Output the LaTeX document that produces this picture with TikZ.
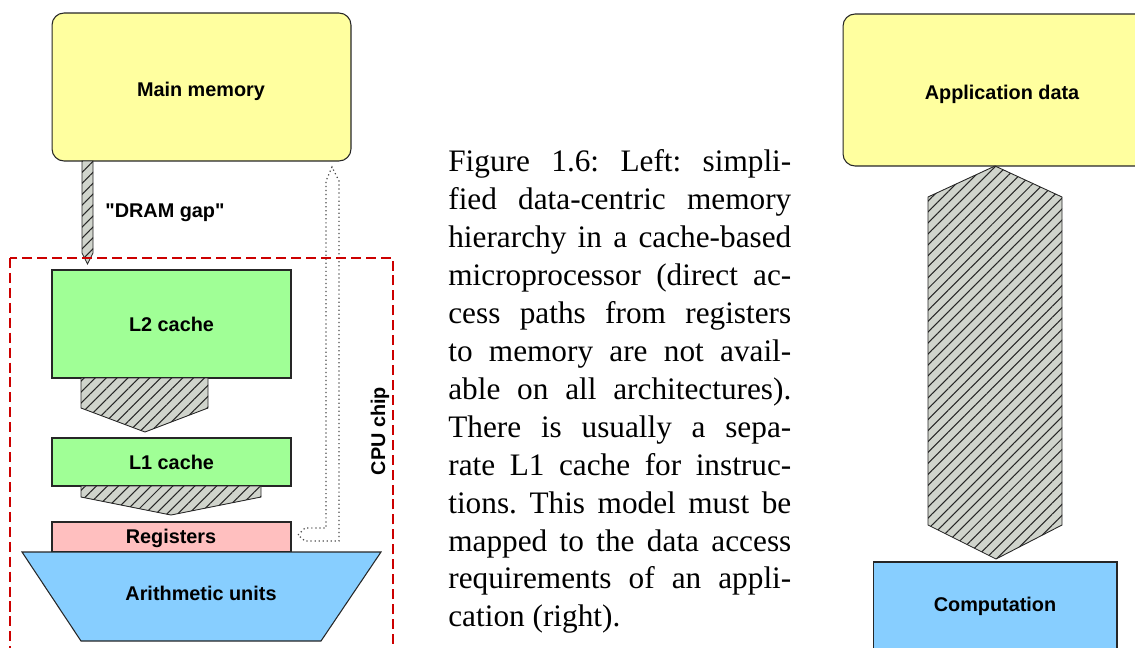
\documentclass[tikz,border=0pt]{standalone}
\usepackage{fontspec}
\setmainfont{Liberation Serif}
\setsansfont{Liberation Sans}[Ligatures=TeXOff]
\usetikzlibrary{patterns.meta}
\frenchspacing

\definecolor{memyellow}{HTML}{FFFF9F}
\definecolor{cachegreen}{HTML}{A0FF96}
\definecolor{regpink}{HTML}{FFBFBF}
\definecolor{alublue}{HTML}{87CEFF}
\definecolor{hatchgray}{HTML}{D0D4CC}
\definecolor{chipred}{HTML}{CC0000}

\begin{document}
\begin{tikzpicture}[x=0.02cm, y=-0.02cm
	, every node/.style={
		font=\sffamily\bfseries\fontsize{11.3pt}{13pt}\selectfont
		, inner sep=0pt
	}
	, box/.style={rectangle, draw=black!85, line width=0.6pt}
	, hatch/.style={draw=black!85, line width=0.5pt, fill=hatchgray
		, postaction={pattern={Lines[angle=45, distance=4.4pt, line width=0.6pt]}, pattern color=black!85}}
	, capline/.style={font=\rmfamily\fontsize{17.8pt}{21.4pt}\selectfont, anchor=base west}
]
\useasboundingbox (0,0) rectangle (1135,648);
\clip (0,0) rectangle (1135,648);

% left: memory hierarchy
\node[box, fill=memyellow, rounded corners=0.24cm, minimum width=5.98cm, minimum height=2.96cm](mem) at(201.5,87) {};
\node(memtxt) at(201,91) {Main memory};
\node[box, fill=cachegreen, minimum width=4.78cm, minimum height=2.16cm](l2) at(171.5,324) {L2 cache};
\node[box, fill=cachegreen, minimum width=4.78cm, minimum height=0.96cm](l1) at(171.5,462) {L1 cache};
\node[box, fill=regpink, minimum width=4.78cm, minimum height=0.6cm](reg) at(171.5,537) {};
\node(regtxt) at(171,538) {Registers};
\draw[box, fill=alublue] (22,552) -- (381,552) -- (321,641) -- (81,641) -- cycle;
\node(alu) at(201,593) {Arithmetic units};

\draw[hatch] (82,161) -- (93,161) -- (93,253) -- (87.5,264) -- (82,253) -- cycle;
\node[anchor=west](gap) at(105,213) {"DRAM gap"};
\draw[hatch] (81,378) -- (208,378) -- (208,408) -- (145,432) -- (81,408) -- cycle;
\draw[hatch] (81,486) -- (261,486) -- (261,497) -- (171,515) -- (81,497) -- cycle;

% direct path registers <-> memory
\draw[black!70, line width=0.7pt, dash pattern=on 0.7pt off 1.6pt]
	(298,535) -- (305,528) -- (326,528) -- (326,181) -- (332,167)
	-- (339,181) -- (339,541) -- (305,541) -- cycle;

\draw[chipred, line width=0.6pt, dash pattern=on 5.7pt off 2.8pt] (10,258) rectangle (393,700);
\node[rotate=90](chip) at(380,431) {CPU chip};

% caption
\foreach [count=\i] \txt in {
	{Figure 1.6: Left: simpli-}
	, {fied data-centric memory}
	, {hierarchy in a cache-based}
	, {microprocessor (direct ac-}
	, {cess paths from registers}
	, {to memory are not avail-}
	, {able on all architectures).}
	, {There is usually a sepa-}
	, {rate L1 cache for instruc-}
	, {tions. This model must be}
	, {mapped to the data access}
	, {requirements of an appli-}
}{
	\node[capline](c\i) at(448,{172+37.9*(\i-1)}) {\makebox[6.86cm][s]{\txt\unskip}};
}
\node[capline](c13) at(448,{172+37.9*12}) {cation (right).};

% right: application
\node[box, fill=memyellow, rounded corners=0.24cm, minimum width=6.36cm, minimum height=3.04cm](app) at(1002,90) {};
\node(apptxt) at(1002,94) {Application data};
\draw[hatch] (928,197) -- (995,166) -- (1062,197) -- (1062,525) -- (996,559) -- (928,525) -- cycle;
\node[box, fill=alublue, minimum width=4.88cm, minimum height=1.76cm](comp) at(995,606) {Computation};

\end{tikzpicture}
\end{document}
